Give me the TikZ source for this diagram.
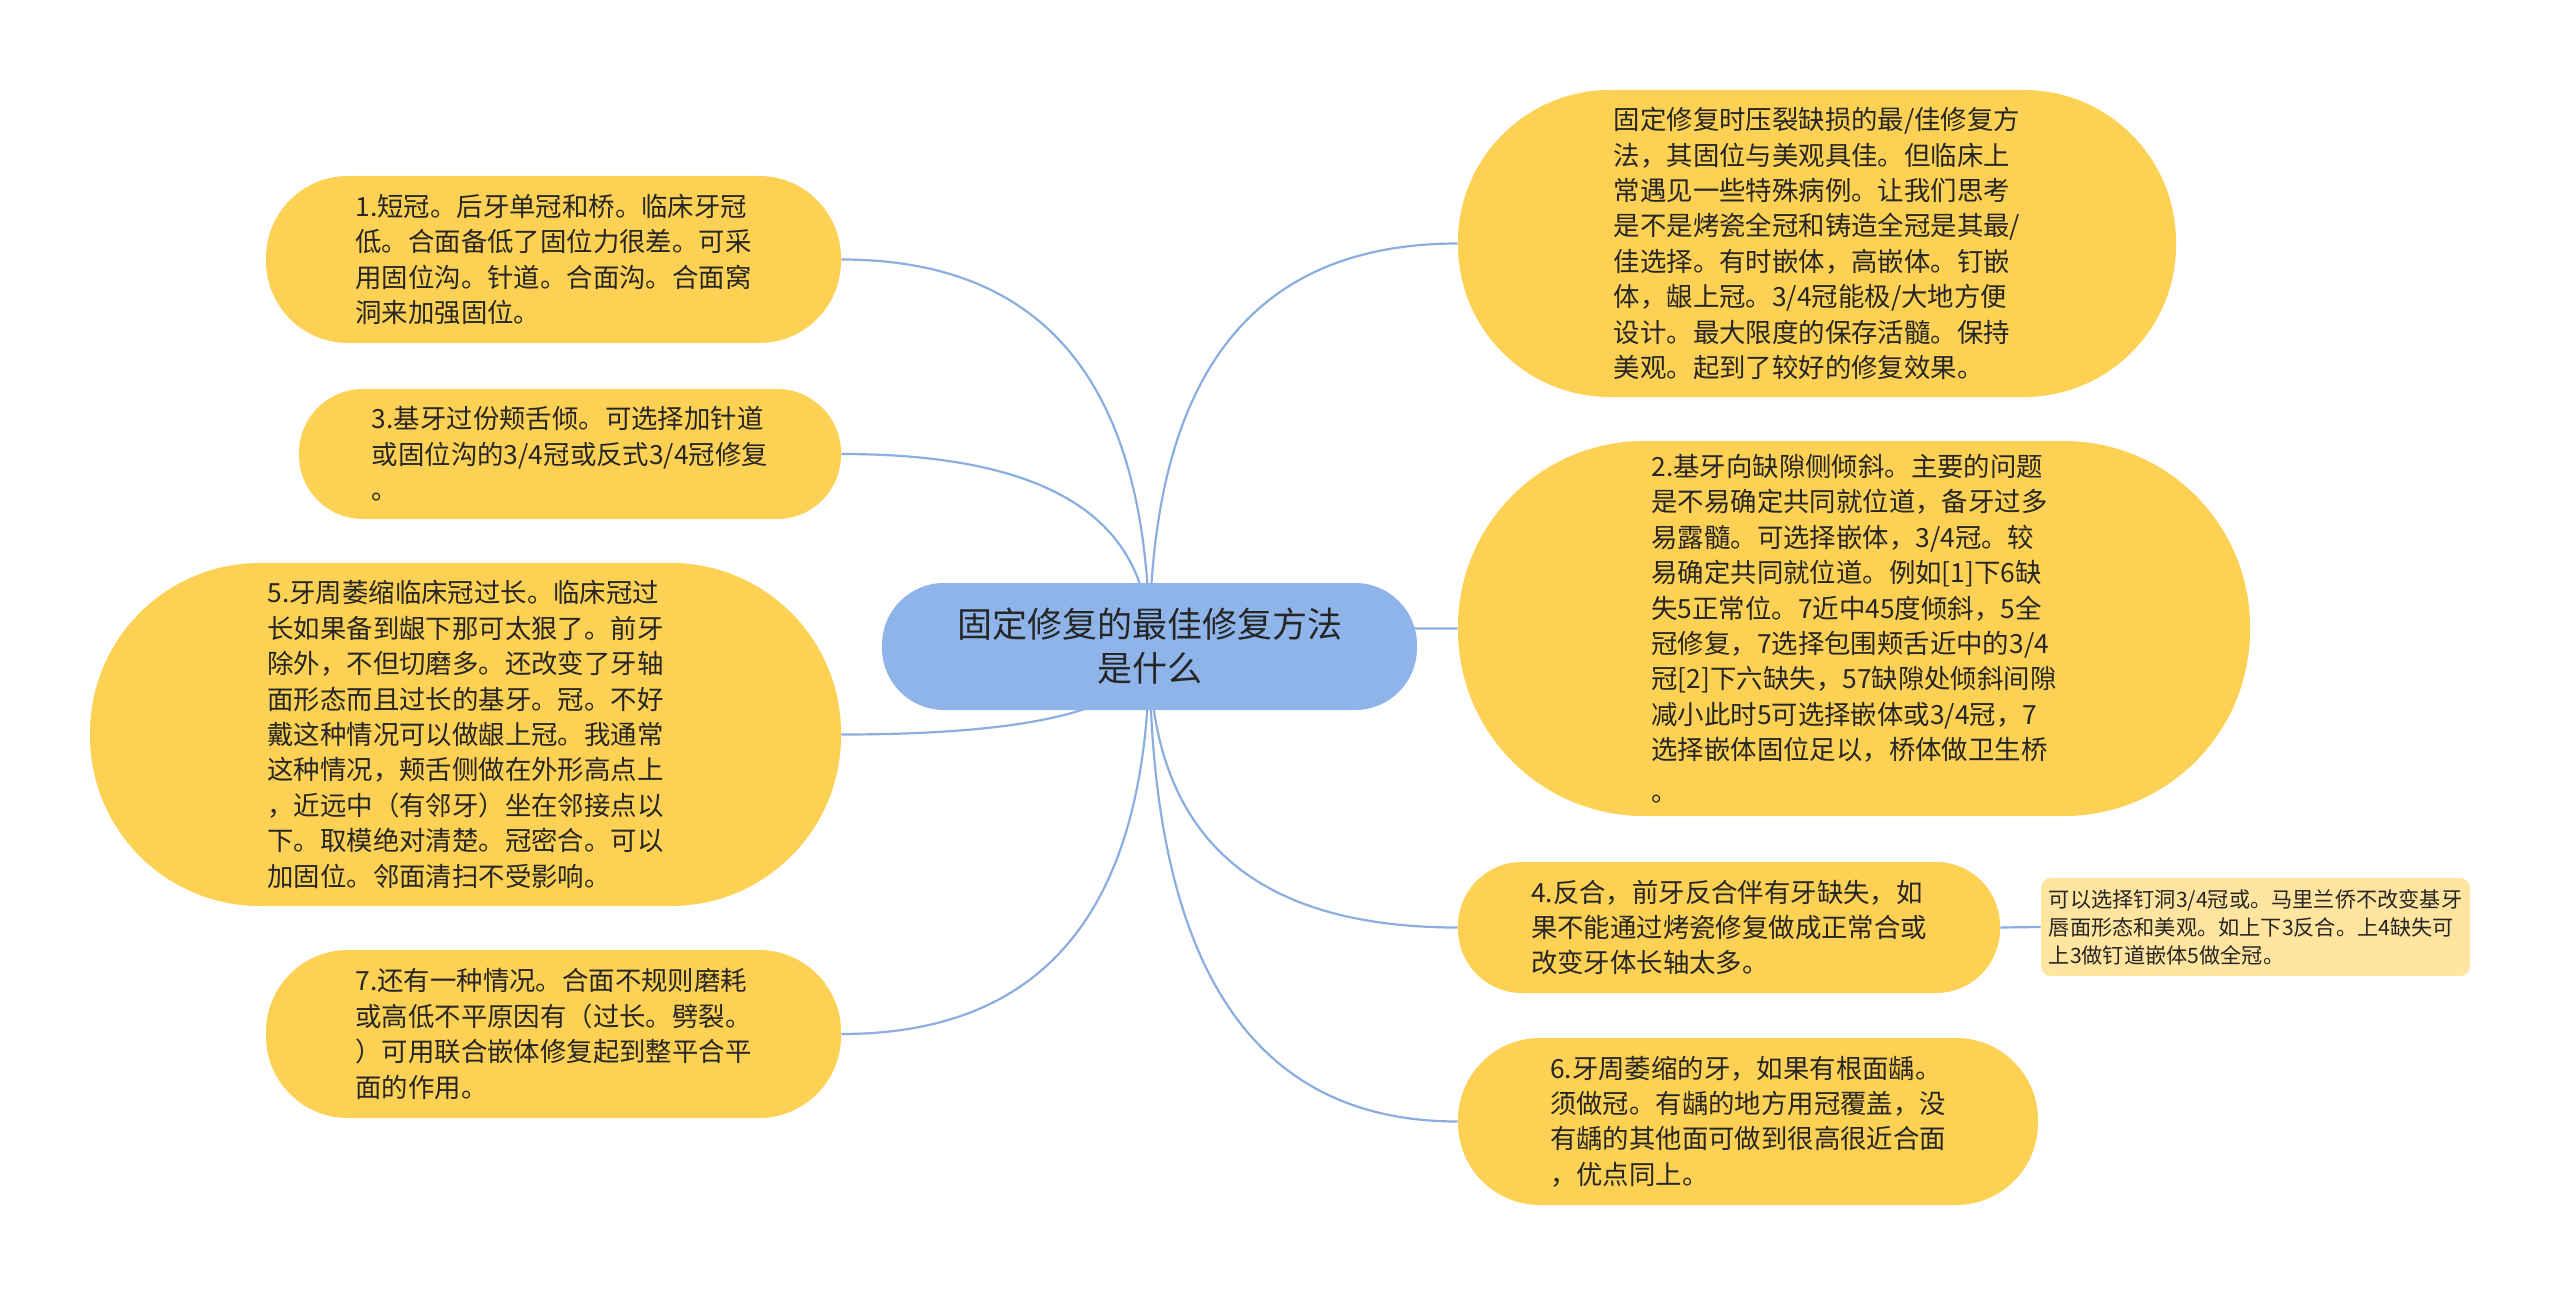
\documentclass[tikz,border=0pt]{standalone}
\usepackage{fontspec}
\setmainfont{Noto Sans CJK SC}
\usetikzlibrary{calc}
\usetikzlibrary{backgrounds}

\definecolor{leafyellow}{HTML}{FDD154}
\definecolor{rootblue}{HTML}{8FB4E9}
\definecolor{linkblue}{HTML}{8AAEE0}
\definecolor{notefill}{HTML}{FFE59F}
\definecolor{textdark}{HTML}{262626}

\tikzset{
  leafbox/.style={fill=leafyellow, text=textdark, inner sep=0pt, align=left,
    font=\fontsize{13.2pt}{17.7pt}\selectfont},
  rootbox/.style={fill=rootblue, text=textdark, inner sep=0pt, align=center,
    font=\fontsize{17.5pt}{22pt}\selectfont},
  notebox/.style={fill=notefill, text=textdark, inner sep=0pt, align=left,
    rounded corners=5pt, font=\fontsize{10.6pt}{14pt}\selectfont},
  branch/.style={draw=linkblue, line width=1.1pt,
    to path={.. controls ($(\tikztostart)!0.67!(\tikztostart |- \tikztotarget)$)
      and ($(\tikztotarget)!0.67!(\tikztostart |- \tikztotarget)$) .. (\tikztotarget)}}
}

\begin{document}
\begin{tikzpicture}[x=0.5pt, y=-0.5pt]
\useasboundingbox (0,0) rectangle (2560,1295);

% centre
\node[rootbox, minimum width=267.5pt, minimum height=63.5pt, rounded corners=31pt]
  (main) at (1149.5,646.5) {固定修复的最佳修复方法\\是什么};

% left side
\node[leafbox, minimum width=287.5pt, minimum height=83.5pt, rounded corners=41pt]
  (c1) at (553.5,259.5) {1.短冠。后牙单冠和桥。临床牙冠\\低。合面备低了固位力很差。可采\\用固位沟。针道。合面沟。合面窝\\洞来加强固位。};
\node[leafbox, minimum width=271pt, minimum height=65pt, rounded corners=32pt]
  (c3) at (570,454) {3.基牙过份颊舌倾。可选择加针道\\或固位沟的3/4冠或反式3/4冠修复\\。};
\node[leafbox, minimum width=375.5pt, minimum height=171.5pt, rounded corners=85pt]
  (c5) at (465.5,734.5) {5.牙周萎缩临床冠过长。临床冠过\\长如果备到龈下那可太狠了。前牙\\除外，不但切磨多。还改变了牙轴\\面形态而且过长的基牙。冠。不好\\戴这种情况可以做龈上冠。我通常\\这种情况，颊舌侧做在外形高点上\\，近远中（有邻牙）坐在邻接点以\\下。取模绝对清楚。冠密合。可以\\加固位。邻面清扫不受影响。};
\node[leafbox, minimum width=287.5pt, minimum height=84pt, rounded corners=41pt]
  (c7) at (553.5,1034) {7.还有一种情况。合面不规则磨耗\\或高低不平原因有（过长。劈裂。\\）可用联合嵌体修复起到整平合平\\面的作用。};

% right side
\node[leafbox, minimum width=359pt, minimum height=153.5pt, rounded corners=76pt]
  (intro) at (1817,243.5) {固定修复时压裂缺损的最/佳修复方\\法，其固位与美观具佳。但临床上\\常遇见一些特殊病例。让我们思考\\是不是烤瓷全冠和铸造全冠是其最/\\佳选择。有时嵌体，高嵌体。钉嵌\\体，龈上冠。3/4冠能极/大地方便\\设计。最大限度的保存活髓。保持\\美观。起到了较好的修复效果。};
\node[leafbox, minimum width=396pt, minimum height=187.5pt, rounded corners=93pt]
  (c2) at (1854,628.5) {2.基牙向缺隙侧倾斜。主要的问题\\是不易确定共同就位道，备牙过多\\易露髓。可选择嵌体，3/4冠。较\\易确定共同就位道。例如[1]下6缺\\失5正常位。7近中45度倾斜，5全\\冠修复，7选择包围颊舌近中的3/4\\冠[2]下六缺失，57缺隙处倾斜间隙\\减小此时5可选择嵌体或3/4冠，7\\选择嵌体固位足以，桥体做卫生桥\\[3pt]。};
\node[leafbox, minimum width=271pt, minimum height=65.5pt, rounded corners=32pt]
  (c4) at (1729,927.5) {4.反合，前牙反合伴有牙缺失，如\\果不能通过烤瓷修复做成正常合或\\改变牙体长轴太多。};
\node[notebox, minimum width=214.5pt, minimum height=49pt]
  (c4note) at (2255.5,927) {可以选择钉洞3/4冠或。马里兰侨不改变基牙\\唇面形态和美观。如上下3反合。上4缺失可\\上3做钉道嵌体5做全冠。};
\node[leafbox, minimum width=290pt, minimum height=83.5pt, rounded corners=41pt]
  (c6) at (1748,1121.5) {6.牙周萎缩的牙，如果有根面龋。\\须做冠。有龋的地方用冠覆盖，没\\有龋的其他面可做到很高很近合面\\，优点同上。};

\begin{scope}[on background layer]
\draw[branch] (main.center) to (c1.east);
\draw[branch] (main.center) to (c3.east);
\draw[branch] (main.center) to (c5.east);
\draw[branch] (main.center) to (c7.east);
\draw[branch] (main.center) to (intro.west);
\draw[branch] (main.center) to (c2.west);
\draw[branch] (main.center) to (c4.west);
\draw[branch] (main.center) to (c6.west);
\draw[branch] (c4.east) -- (c4note.west);
\end{scope}
\end{tikzpicture}
\end{document}
